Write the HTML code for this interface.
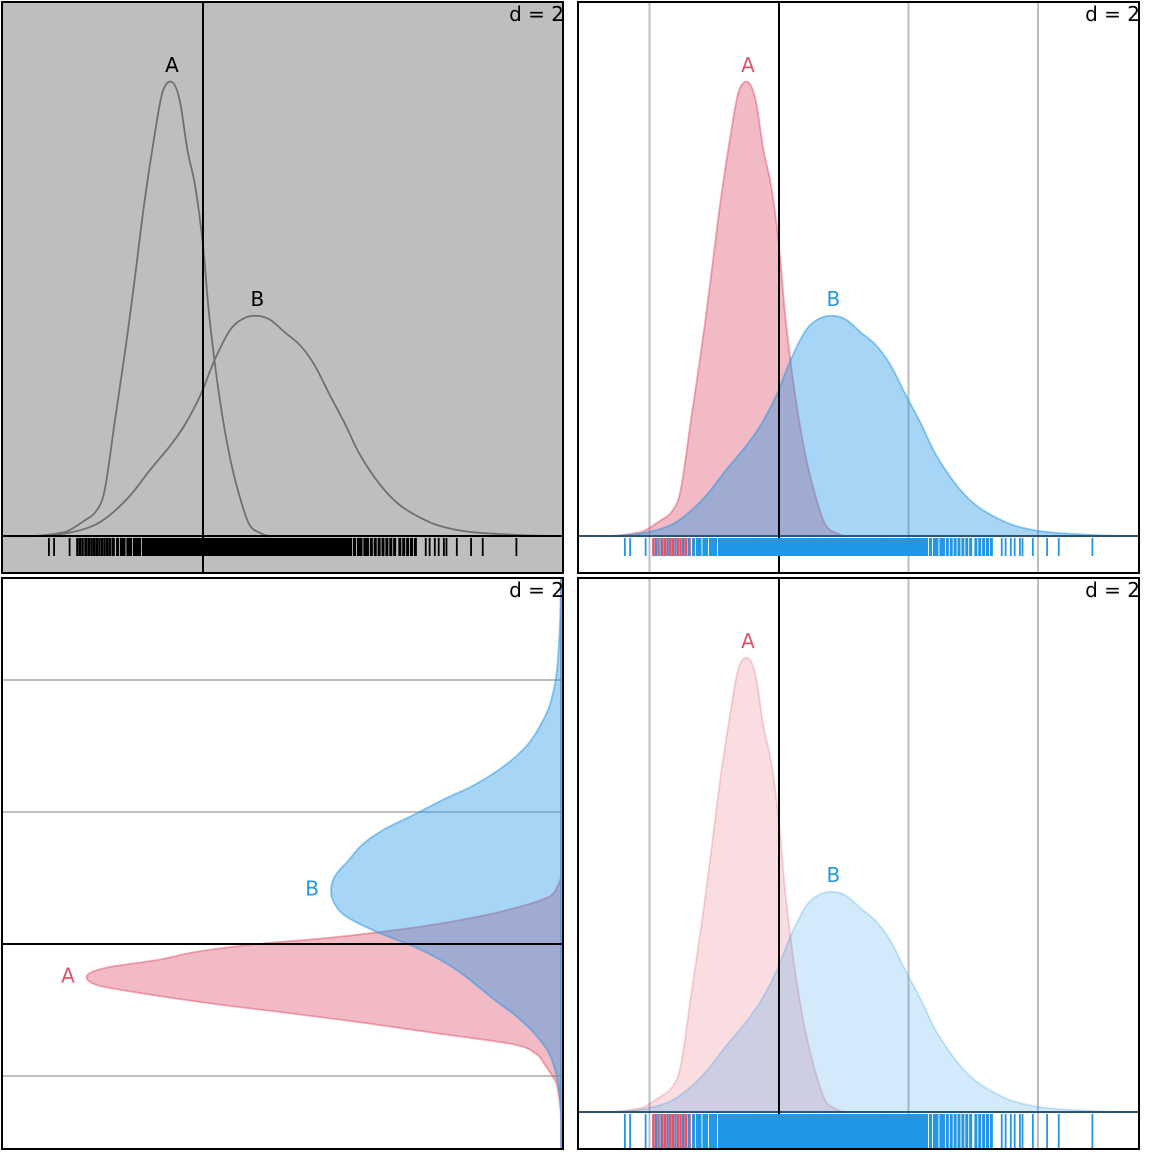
<!DOCTYPE html>
<html><head><meta charset="utf-8"><style>
html,body{margin:0;padding:0;background:#fff;}
svg{display:block;font-family:"DejaVu Sans","Liberation Sans",sans-serif;}
</style></head><body>
<svg id="chart" width="1152" height="1152" viewBox="0 0 1152 1152" xmlns="http://www.w3.org/2000/svg">
<defs>
<clipPath id="c1"><rect x="2" y="2" width="561" height="571"/></clipPath>
<clipPath id="c2"><rect x="578" y="2" width="561" height="571"/></clipPath>
<clipPath id="c3"><rect x="2" y="578" width="561" height="571"/></clipPath>
<clipPath id="c4"><rect x="578" y="578" width="561" height="571"/></clipPath>
</defs>
</svg>
<script>
// density curve A
const aX = [-1.30,-1.10,-1.03,-0.91,-0.83,-0.76,-0.68,-0.60,-0.53,-0.45,-0.37,-0.31,-0.24,-0.18,-0.12,-0.06,0.00,0.05,0.13,0.21,0.29,0.36,0.44,0.52,0.70];
const aD = [0,0.007,0.013,0.035,0.053,0.10,0.255,0.41,0.56,0.74,0.89,0.98,1.0,0.96,0.85,0.77,0.64,0.48,0.30,0.17,0.08,0.024,0.007,0,0];
// density curve B
const bX = [-1.60,-1.34,-1.10,-0.87,-0.72,-0.56,-0.41,-0.25,-0.14,-0.02,0.09,0.21,0.32,0.42,0.52,0.63,0.75,0.86,0.98,1.10,1.21,1.37,1.52,1.68,1.83,2.06,2.45,2.80];
const bD = [0,0,0.004,0.02,0.046,0.09,0.145,0.20,0.245,0.31,0.388,0.454,0.48,0.485,0.476,0.449,0.42,0.377,0.31,0.245,0.18,0.112,0.068,0.04,0.022,0.009,0.002,0];
// rug values
const rugA = [-0.97,-0.95,-0.93,-0.90,-0.88,-0.86,-0.84,-0.82,-0.80,-0.78,-0.76,-0.74,-0.72,-0.69,-0.45];
const rugB = [-1.19,-1.15,-1.03,-0.95,-0.91,-0.86,-0.80,-0.74,-0.70,
-0.66,-0.63,-0.61,-0.58,-0.56,-0.53,-0.51,-0.49,-0.46,-0.44,-0.42,-0.40,-0.38,-0.36,-0.34,-0.32,-0.30,-0.28,-0.26,-0.24,-0.22,-0.20,-0.18,-0.16,-0.14,-0.12,-0.10,-0.08,-0.06,-0.04,-0.02,0.00,0.02,0.04,0.06,0.08,0.10,0.12,0.14,0.16,0.18,0.20,0.22,0.24,0.26,0.28,0.30,0.32,0.34,0.36,0.38,0.40,0.42,0.44,0.46,0.48,0.50,0.52,0.54,0.56,0.58,0.60,0.62,0.64,0.66,0.68,0.70,0.72,0.74,0.76,0.78,0.80,0.82,0.84,0.86,0.88,0.90,0.92,0.94,0.96,0.98,1.00,1.02,1.04,1.06,1.08,1.10,1.12,1.14,1.17,1.20,1.22,1.25,1.27,1.30,1.33,1.36,1.39,1.42,1.45,1.48,1.52,1.55,1.58,1.61,1.64,
1.72,1.75,1.79,1.82,1.86,1.88,1.96,2.07,2.16,2.42];
const gridVals = [-1, 1, 2];

const svg = document.getElementById('chart');
const NS = 'http://www.w3.org/2000/svg';
function mk(tag, attrs, parent){const e=document.createElementNS(NS,tag);for(const k in attrs)e.setAttribute(k,attrs[k]);(parent||svg).appendChild(e);return e;}
function smooth(pts){let d='M'+pts[0][0]+','+pts[0][1];for(let i=0;i<pts.length-1;i++){const p0=pts[i-1]||pts[i],p1=pts[i],p2=pts[i+1],p3=pts[i+2]||p2;d+=' C'+(p1[0]+(p2[0]-p0[0])/6)+','+(p1[1]+(p2[1]-p0[1])/6)+' '+(p2[0]-(p3[0]-p1[0])/6)+','+(p2[1]-(p3[1]-p1[1])/6)+' '+p2[0]+','+p2[1];}return d;}
const RED='223,83,107', BLUE='34,151,230';
const SC=129.5, HS=454, FS=20;
function rugW(v){return (v>-0.67 && v<1.66) ? 3 : 1.8;}

function horizPanel(px, py, opt){
  const g = mk('g',{'clip-path':'url(#c'+opt.id+')'});
  
  
  const x0 = px+201, base = py+534;
  const xs = v => x0 + v*SC, ys = d => base - d*HS;
  const bg = mk('rect',{x:px,y:py,width:561,height:571,fill:opt.bg},g);
  
  
  if(opt.grid){ gridVals.forEach(v=>{const l=mk('line',{x1:xs(v),x2:xs(v),y1:py,y2:py+571,stroke:'#bebebe','stroke-width':2},g);
    
    }); }
  const series=[[aX,aD,RED,'A'],[bX,bD,BLUE,'B']];
  series.forEach(([X,D,col,name])=>{
    const pts = X.map((v,i)=>[xs(v),ys(D[i])]);
    pts.unshift([px-5,base]); pts.push([px+566,base]);
    const p = mk('path',{d:smooth(pts)+' Z',
      fill: opt.mono?'none':'rgba('+col+','+opt.fa+')',
      stroke: opt.mono?'#707070':'rgba('+col+','+opt.sa+')','stroke-width':1.8},g);
    
    
    const pk = D.indexOf(Math.max(...D));
    const t = mk('text',{x:xs(X[pk]),y:ys(D[pk])-10,'text-anchor':'middle','font-size':FS,fill:opt.mono?'#000':'rgb('+col+')'},g);
    t.textContent = name;
    
    
  });
  const bl = mk('line',{x1:px,x2:px+561,y1:base,y2:base,stroke:opt.mono?'#000':'#2a5578','stroke-width':2},g);
  
  
  const vl = mk('line',{x1:x0,x2:x0,y1:py,y2:py+571,stroke:'#000','stroke-width':2},g);
  
  
  const rg = mk('g',{},g);
  
  
  const y1 = base+2, y2 = base+opt.rugLen;
  rugA.forEach(v=>mk('line',{x1:xs(v),x2:xs(v),y1:y1,y2:y2,stroke:opt.mono?'#000':'rgb('+RED+')','stroke-width':2.4},rg));
  rugB.forEach(v=>mk('line',{x1:xs(v),x2:xs(v),y1:y1,y2:y2,stroke:opt.mono?'#000':'rgb('+BLUE+')','stroke-width':rugW(v)},rg));
}

function vertPanel(px, py){
  const g = mk('g',{'clip-path':'url(#c3)'});
  
  
  const y0 = 944, base = px+559, S=132, H=474;
  const ys = v => y0 - v*S, xs = d => base - d*H;
  gridVals.forEach(v=>{const l=mk('line',{x1:px,x2:px+561,y1:ys(v),y2:ys(v),stroke:'#bebebe','stroke-width':2},g);
    
    });
  [[aX,aD,RED,'A'],[bX,bD,BLUE,'B']].forEach(([X,D,col,name])=>{
    const pts = X.map((v,i)=>[xs(D[i]),ys(v)]);
    pts.unshift([base,py+580]); pts.push([base,py-5]);
    const p = mk('path',{d:smooth(pts)+' Z',fill:'rgba('+col+',0.4)',stroke:'rgba('+col+',0.5)','stroke-width':1.8},g);
    
    
    const pk = D.indexOf(Math.max(...D));
    const t = mk('text',{x:xs(D[pk])-19,y:ys(X[pk])+7,'text-anchor':'middle','font-size':FS,fill:'rgb('+col+')'},g);
    t.textContent = name;
    
    
  });
  const hl = mk('line',{x1:px,x2:px+561,y1:y0,y2:y0,stroke:'#000','stroke-width':2},g);
  
  
}

horizPanel(2,2,{id:1,bg:'#bebebe',mono:true,grid:false,rugLen:20});
horizPanel(578,2,{id:2,bg:'#fff',grid:true,fa:0.4,sa:0.5,rugLen:20});
vertPanel(2,578);
horizPanel(578,578,{id:4,bg:'#fff',grid:true,fa:0.2,sa:0.25,rugLen:38});

[[2,2],[578,2],[2,578],[578,578]].forEach(([x,y],i)=>{
  const r = mk('rect',{x:x,y:y,width:561,height:571,fill:'none',stroke:'#000','stroke-width':2});
  
  
  const t = mk('text',{x:x+562,y:y+19,'text-anchor':'end','font-size':FS,fill:'#000'});
  t.textContent = 'd = 2';
  
  
});
</script>
</body></html>
